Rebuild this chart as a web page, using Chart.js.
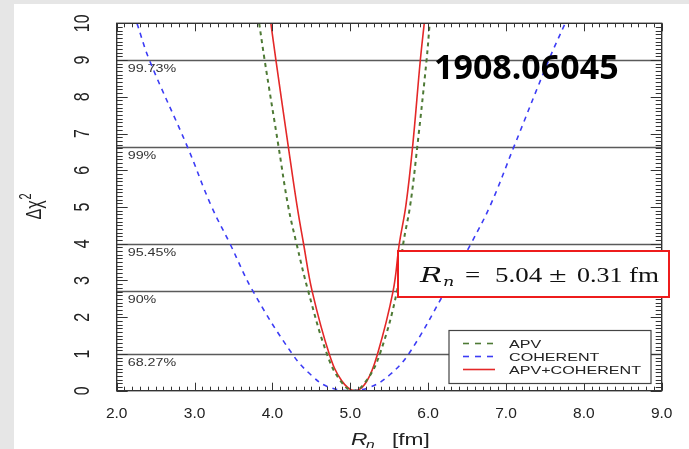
<!DOCTYPE html>
<html>
<head>
  <meta charset="UTF-8">
  <title>APV + COHERENT Rn fit</title>
  <script src="https://cdn.jsdelivr.net/npm/chart.js"></script>
  <style>
  html, body {
    margin: 0;
    padding: 0;
    background: #e6e6e6;
  }
  .frame {
    position: absolute;
    left: 14px;
    top: 4px;
    width: 675px;
    height: 445px;
    background: #ffffff;
  }
  </style>
</head>
<body>

  <div class="frame">
    <canvas id="chi2Chart" width="675" height="445"></canvas>
  </div>

  <script>
    // curves: Rn [fm] vs delta chi^2
    const apvR   = [3.83, 3.90, 4.08, 4.20, 4.31, 4.46, 4.70, 4.87, 5.04, 5.21, 5.38, 5.60, 5.68, 5.77, 5.86, 5.98, 6.02];
    const apvChi = [10, 9, 6.63, 5.05, 4, 2.71, 1, 0.28, 0, 0.28, 1, 2.71, 4, 5.05, 6.63, 9, 10];

    const cohR   = [2.26, 2.42, 2.91, 3.21, 3.455, 3.75, 4.255, 4.50, 4.71, 5.00, 5.27, 5.50, 5.75, 6.22, 6.55, 6.80, 7.10, 7.55, 7.76];
    const cohChi = [10, 9, 6.63, 5.05, 4, 2.71, 1, 0.42, 0.11, 0, 0.11, 0.42, 1, 2.71, 4, 5.05, 6.63, 9, 10];

    const combR   = [3.98, 4.045, 4.205, 4.315, 4.40, 4.51, 4.73, 4.89, 5.06, 5.21, 5.35, 5.55, 5.63, 5.715, 5.80, 5.90, 5.95];
    const combChi = [10, 9, 6.63, 5.05, 4, 2.71, 1, 0.27, 0, 0.25, 1, 2.71, 4, 5.05, 6.63, 9, 10];

    // confidence levels
    const clValues = [1.0, 2.71, 4.0, 6.63, 9.0];
    const clLabels = ["68.27%", "90%", "95.45%", "99%", "99.73%"];

    const xTicks = [2, 3, 4, 5, 6, 7, 8, 9];
    const yTicks = [0, 1, 2, 3, 4, 5, 6, 7, 8, 9, 10];

    const toPoints = (xs, ys) => xs.map((x, i) => ({ x: x, y: ys[i] }));

    const SX = 1.42; // the original picture is stretched sideways

    function stretchedText(ctx, text, x, y, font, align, sx) {
      ctx.save();
      ctx.font = font;
      ctx.textAlign = align;
      ctx.translate(x, y);
      ctx.scale(sx, 1);
      ctx.fillText(text, 0, 0);
      ctx.restore();
    }

    const decorPlugin = {
      id: "decor",
      beforeDatasetsDraw(chart) {
        const ctx = chart.ctx;
        const a = chart.chartArea;
        const ys = chart.scales.y;

        // confidence level lines
        ctx.save();
        ctx.strokeStyle = "#5a5a5a";
        ctx.lineWidth = 1.3;
        ctx.fillStyle = "#333";
        clValues.forEach((v, i) => {
          const py = Math.round(ys.getPixelForValue(v)) + 0.5;
          ctx.beginPath();
          ctx.moveTo(a.left, py);
          ctx.lineTo(a.right, py);
          ctx.stroke();
          ctx.textBaseline = "middle";
          stretchedText(ctx, clLabels[i], a.left + 11, py + 8, "11px 'Liberation Sans', Arial, sans-serif", "left", 1.3);
        });
        ctx.restore();
      },
      afterDatasetsDraw(chart) {
        const ctx = chart.ctx;
        const a = chart.chartArea;
        const xs = chart.scales.x;
        const ys = chart.scales.y;

        ctx.save();
        // frame
        ctx.strokeStyle = "#333";
        ctx.lineWidth = 1.4;
        ctx.strokeRect(a.left, a.top, a.right - a.left, a.bottom - a.top);

        // inward ticks, minor every 0.1
        ctx.lineWidth = 1;
        ctx.beginPath();
        for (let k = 20; k <= 90; k++) {
          const px = Math.round(xs.getPixelForValue(k / 10)) + 0.5;
          const len = k % 10 === 0 ? 8 : 4;
          ctx.moveTo(px, a.bottom); ctx.lineTo(px, a.bottom - len);
          ctx.moveTo(px, a.top); ctx.lineTo(px, a.top + len);
        }
        for (let k = 0; k <= 100; k++) {
          const py = Math.round(ys.getPixelForValue(k / 10)) + 0.5;
          const len = k % 10 === 0 ? 11 : 6;
          ctx.moveTo(a.left, py); ctx.lineTo(a.left + len, py);
          ctx.moveTo(a.right, py); ctx.lineTo(a.right - len, py);
        }
        ctx.stroke();

        // y tick labels, rotated
        ctx.fillStyle = "#222";
        ctx.font = "16px 'Liberation Sans', Arial, sans-serif";
        ctx.textAlign = "center";
        ctx.textBaseline = "middle";
        yTicks.forEach(v => {
          ctx.save();
          ctx.translate(69, ys.getPixelForValue(v));
          ctx.scale(SX, 1);
          ctx.rotate(-Math.PI / 2);
          ctx.fillText(String(v), 0, 0);
          ctx.restore();
        });

        // y title
        ctx.save();
        ctx.translate(27, 203);
        ctx.scale(SX, 1);
        ctx.rotate(-Math.PI / 2);
        ctx.textBaseline = "alphabetic";
        ctx.textAlign = "left";
        ctx.font = "16px 'Liberation Sans', Arial, sans-serif";
        const w1 = ctx.measureText("\u0394\u03c7").width;
        ctx.fillText("\u0394\u03c7", -w1 / 2 - 3, 0);
        ctx.font = "11px 'Liberation Sans', Arial, sans-serif";
        ctx.fillText("2", w1 / 2 - 2, -7);
        ctx.restore();

        // x title
        ctx.textBaseline = "alphabetic";
        stretchedText(ctx, "R", 337, 441, "italic 16px 'Liberation Sans', Arial, sans-serif", "left", SX);
        stretchedText(ctx, "n", 352, 444, "italic 11px 'Liberation Sans', Arial, sans-serif", "left", SX);
        stretchedText(ctx, "[fm]", 378, 441, "16px 'Liberation Sans', Arial, sans-serif", "left", SX);

        // legend box
        const lx = 435, ly = 326.5, lw = 202, lh = 53;
        ctx.fillStyle = "#fff";
        ctx.fillRect(lx, ly, lw, lh);
        ctx.strokeStyle = "#444";
        ctx.lineWidth = 1.2;
        ctx.strokeRect(lx, ly, lw, lh);
        chart.data.datasets.forEach((ds, i) => {
          const ry = ly + 13 + i * 13;
          ctx.strokeStyle = ds.borderColor;
          ctx.lineWidth = 1.6;
          ctx.setLineDash(ds.borderDash ? [6, 6] : []);
          ctx.beginPath();
          ctx.moveTo(lx + 14, ry);
          ctx.lineTo(lx + 46, ry);
          ctx.stroke();
          ctx.setLineDash([]);
          ctx.fillStyle = "#222";
          ctx.textBaseline = "middle";
          stretchedText(ctx, ds.label, lx + 60, ry + 1, "11.5px 'Liberation Sans', Arial, sans-serif", "left", 1.4);
        });

        // result box
        ctx.fillStyle = "#fff";
        ctx.fillRect(384, 247, 271, 46);
        ctx.strokeStyle = "#ee1c1c";
        ctx.lineWidth = 2;
        ctx.strokeRect(384, 247, 271, 46);
        ctx.fillStyle = "#111";
        ctx.textBaseline = "alphabetic";
        const serif = "'DejaVu Serif', 'Liberation Serif', serif";
        stretchedText(ctx, "R", 406, 278, "italic 21px " + serif, "left", 1.4);
        stretchedText(ctx, "n", 429, 282, "italic 13px " + serif, "left", 1.35);
        stretchedText(ctx, "=", 451, 278, "20px 'Liberation Serif', serif", "left", 1.35);
        stretchedText(ctx, "5.04", 481, 278, "20px 'Liberation Serif', serif", "left", 1.35);
        stretchedText(ctx, "\u00b1", 535, 278, "20px 'Liberation Serif', serif", "left", 1.6);
        stretchedText(ctx, "0.31", 563, 278, "20px 'Liberation Serif', serif", "left", 1.3);
        stretchedText(ctx, "fm", 615, 278, "20px 'Liberation Serif', serif", "left", 1.35);

        // tag
        ctx.fillStyle = "#000";
        ctx.textAlign = "left";
        ctx.font = "bold 34px 'Noto Sans', 'Open Sans', sans-serif";
        ctx.fillText("1908.06045", 420, 75);
        ctx.restore();
      }
    };

    const chi2Chart = new Chart(document.getElementById("chi2Chart"), {
      type: "scatter",
      data: {
        datasets: [{
          label: "APV",
          data: toPoints(apvR, apvChi),
          borderColor: "#4e7a35",
          borderDash: [4, 4],
          borderWidth: 2,
          showLine: true,
          pointRadius: 0,
          tension: 0.4
        }, {
          label: "COHERENT",
          data: toPoints(cohR, cohChi),
          borderColor: "#3c3cf5",
          borderDash: [5, 5],
          borderWidth: 1.6,
          showLine: true,
          pointRadius: 0,
          tension: 0.4
        }, {
          label: "APV+COHERENT",
          data: toPoints(combR, combChi),
          borderColor: "#e42828",
          borderWidth: 1.6,
          showLine: true,
          pointRadius: 0,
          tension: 0.4
        }]
      },
      options: {
        responsive: false,
        animation: false,
        layout: { padding: { top: 19.3, right: 27.3, left: 0, bottom: 0 } },
        plugins: {
          legend: { display: false },
          tooltip: { enabled: false }
        },
        scales: {
          x: {
            type: "linear",
            min: 2,
            max: 9,
            afterFit: s => { s.height = 58.3; },
            afterBuildTicks: s => { s.ticks = xTicks.map(v => ({ value: v })); },
            grid: { display: false, drawTicks: false },
            border: { display: false },
            ticks: {
              padding: 14,
              color: "#222",
              font: { family: "'Liberation Sans', Arial, sans-serif", size: 15.5 },
              callback: v => v.toFixed(1)
            }
          },
          y: {
            type: "linear",
            min: 0,
            max: 10,
            afterFit: s => { s.width = 102.7; },
            grid: { display: false, drawTicks: false },
            border: { display: false },
            ticks: { display: false }
          }
        }
      },
      plugins: [decorPlugin]
    });
  </script>

</body>
</html>
